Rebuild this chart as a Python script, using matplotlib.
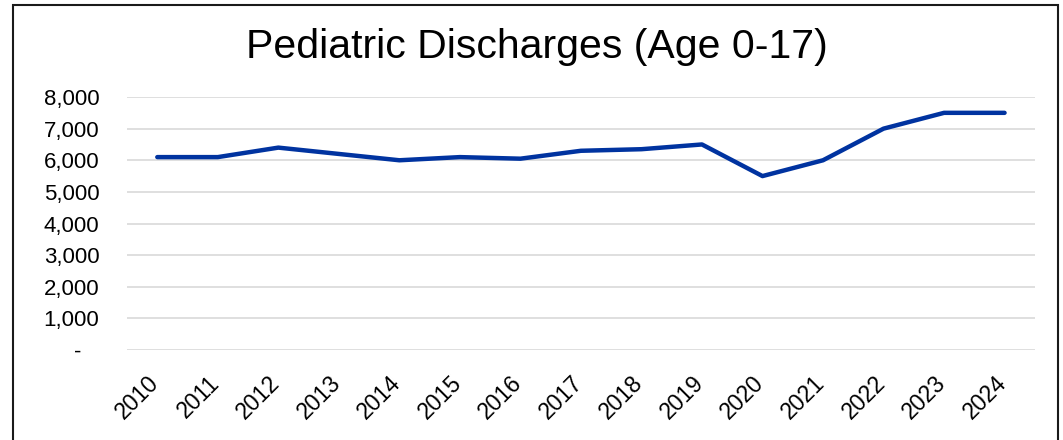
import matplotlib
matplotlib.use("Agg")
import matplotlib.pyplot as plt
from matplotlib.patches import Rectangle
from matplotlib.ticker import FuncFormatter
from matplotlib.transforms import ScaledTranslation

years = ["2010", "2011", "2012", "2013", "2014", "2015", "2016", "2017",
         "2018", "2019", "2020", "2021", "2022", "2023", "2024"]
discharges = [6100, 6100, 6400, 6200, 6000, 6100, 6050, 6300,
              6350, 6500, 5500, 6000, 7000, 7500, 7500]
yticks = [0, 1000, 2000, 3000, 4000, 5000, 6000, 7000, 8000]

plt.rcParams["font.family"] = ["Liberation Sans", "DejaVu Sans"]

fig = plt.figure(figsize=(10.63, 4.4), dpi=100)
ax = fig.add_axes([0.1195, 0.2045, 0.854, 0.575])

x = list(range(len(years)))
ax.plot(x, discharges, color="#0033a0", lw=3.2, solid_capstyle="round", solid_joinstyle="round", zorder=3)

ax.set_xlim(-0.5, len(years) - 0.5)
ax.set_ylim(0, 8000)
ax.set_yticks(yticks)
ax.yaxis.set_major_formatter(FuncFormatter(lambda v, p: "-   " if v == 0 else f"{int(v):,}"))
ax.set_xticks(x)
ax.set_xticklabels(years, rotation=45, ha="right", rotation_mode="anchor")
ax.grid(axis="y", color="#d9d9d9", lw=1.2)
ax.set_axisbelow(True)
for s in ax.spines.values():
    s.set_visible(False)
ax.tick_params(axis="y", length=0, pad=20, labelsize=16)
ax.tick_params(axis="x", length=0, pad=13, labelsize=16.5)
shift = ScaledTranslation(-0.10, -0.03, fig.dpi_scale_trans)
for lab in ax.get_xticklabels():
    lab.set_transform(lab.get_transform() + shift)

fig.text(0.505, 1 - 58 / 440, "Pediatric Discharges (Age 0-17)", ha="center", va="baseline", fontsize=29.5)

# chart border
fig.add_artist(Rectangle((13 / 1063, -0.05), (1058 - 13) / 1063, 1.05 - 5 / 440,
                         transform=fig.transFigure, fill=False, ec="#1a1a1a", lw=1.5))

fig.savefig("out.png", dpi=100)
